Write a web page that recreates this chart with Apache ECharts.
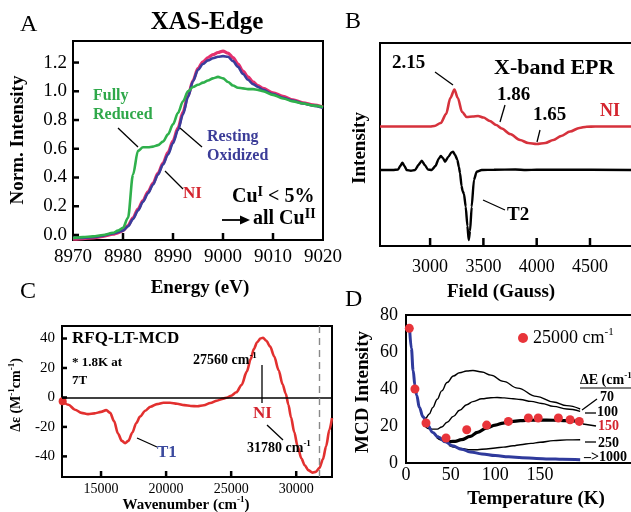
<!DOCTYPE html>
<html><head><meta charset="utf-8">
<script src="https://cdn.jsdelivr.net/npm/echarts@6/dist/echarts.min.js"></script>
<style>html,body{margin:0;padding:0;background:#fff}#c{width:631px;height:512px}</style>
</head><body><div id="c"></div>
<script>
// ---------- Panel A : XAS edge ----------
const xasEnergy = [8970,8972,8974,8976,8978,8979,8980,8981,8982,8983,8984,8985,8986,8987,8988,8989,8990,8991,8992,8993,8994,8995,8996,8997,8998,8999,9000,9001,9002,9003,9004,9005,9006,9007,9008,9010,9012,9014,9016,9018,9020];
const xasReduced = [-0.02,-0.015,-0.01,0.0,0.015,0.03,0.05,0.12,0.42,0.585,0.61,0.61,0.615,0.625,0.65,0.70,0.77,0.85,0.93,1.0,1.03,1.045,1.06,1.075,1.09,1.10,1.09,1.065,1.04,1.025,1.02,1.015,1.015,1.01,1.0,0.975,0.95,0.93,0.915,0.9,0.89];
const xasResting = [-0.02,-0.02,-0.015,-0.005,0.01,0.02,0.03,0.06,0.11,0.17,0.23,0.29,0.35,0.42,0.49,0.56,0.64,0.73,0.84,0.96,1.07,1.15,1.19,1.215,1.23,1.24,1.245,1.24,1.21,1.17,1.12,1.08,1.05,1.03,1.01,0.98,0.955,0.935,0.915,0.9,0.885];
const xasNI = [-0.03,-0.025,-0.02,-0.01,0.005,0.015,0.03,0.065,0.12,0.18,0.24,0.30,0.36,0.43,0.50,0.575,0.655,0.745,0.855,0.97,1.075,1.16,1.205,1.235,1.255,1.27,1.28,1.265,1.235,1.19,1.14,1.10,1.065,1.04,1.02,0.99,0.965,0.94,0.92,0.905,0.89];
const xasXTicks = [8980,8990,9000,9010];
const xasYTicks = [0,0.2,0.4,0.6,0.8,1.0,1.2];

// ---------- Panel B : X-band EPR ----------
const niField  = [2530,3000,3040,3100,3150,3190,3228,3260,3300,3344,3400,3450,3500,3560,3620,3672,3750,3844,3920,4000,4080,4156,4230,4313,4400,4469,4550,5070];
const niSignal = [119.5,119.5,120,123,132,148,156.5,148,134,129,129.5,130,128.5,125,121,117.5,112,106,103,102,103,106,110,114.5,118,119.3,119.5,119.5];
const t2Field  = [2530,2650,2700,2720,2740,2760,2780,2820,2860,2890,2922,2950,2980,3015,3050,3080,3100,3120,3140,3170,3200,3215,3235,3256,3270,3281,3295,3305,3318,3334,3350,3362,3375,3390,3411,3437,3484,3600,3800,3900,4000,5070];
const t2Signal = [76,76,76.5,80,83.3,80,76,75.3,76,81,85.3,81,76.5,76,80,87,90,88,84.3,89,93.5,94.3,91,86,79,72.7,60,55,52,39.3,20,6,15,39,66,74.3,76,76.3,76.5,76,76.3,76];
const eprTicks = [3000,3500,4000,4500];

// ---------- Panel C : RFQ-LT-MCD ----------
const mcdWn = [12050,12500,13000,13500,14000,14500,15000,15400,15700,16000,16300,16600,16850,17100,17400,17700,18000,18400,18800,19300,19800,20300,20850,21400,21900,22400,22900,23400,23900,24400,24700,25000,25400,25800,26200,26500,26750,27000,27250,27450,27700,28000,28300,28650,28950,29200,29400,29600,29850,30100,30400,30650,30950,31250,31500,31780,32050,32300,32550,32750];
const mcdDe = [-2.5,-5,-8.3,-10.5,-11.3,-10.8,-9.8,-8.6,-10.5,-16,-24.5,-29.5,-31,-29.5,-24,-17.5,-13,-9,-6.3,-4.5,-3.6,-3.6,-4.3,-5.2,-5.8,-6,-5.3,-3.8,-2.2,-0.8,0,1.2,3.5,8.5,17.5,26,33,37.5,40,40.5,38.5,34.5,28,18.5,9,2.5,-5,-13.5,-23.5,-33,-41.5,-46,-49.5,-51,-50.5,-48,-42,-33,-22,-14];
const mcdXTicks = [15000,20000,25000,30000];
const mcdYTicks = [-40,-20,0,20,40];
const niBandWn = 31780;

// ---------- Panel D : VTVH MCD ----------
const dotTemp = [3.7,10,22.4,44.8,68,90.3,114.6,137,148,170.6,183.7,194];
const dotMcd  = [72.8,40,21.6,13.5,18,20.5,22.5,24.3,24.3,24.3,23.4,22.5];
const fitT70  = [20,22,26,30,35,40,46,53,60,68,75,85,95,109,125,146,165,180,195];
const fit70   = [24.5,24.2,26.5,30,34.5,39,43.5,47,48.8,49.7,50,49.2,47.5,44.1,40.5,36,33,31,29.2];
const fitT100 = [22,26,30,35,40,46,53,60,68,75,85,95,102,110,120,128,140,152,165,180,195];
const fit100  = [19.5,18.5,18.3,18.3,19.5,22,25.2,28.5,31.5,33.2,34.7,35.3,35.4,35.2,34.7,34.3,33.3,32.2,30.6,29.2,27.9];
const fitT150 = [35,40,45,50,55,62,72,80,90,100,109,118,128,140,150,165,180,195];
const fit150  = [14.2,12.8,12.0,11.6,11.7,12.6,14.4,16.6,18.9,20.5,21.6,22.4,22.9,23.1,23.2,23.1,22.9,22.5];
const fitT250 = [48,55,62,72,80,90,100,109,120,128,140,150,165,180,195];
const fit250  = [9.5,8.5,7.8,7.2,7.2,7.6,8.1,8.6,9.3,9.9,10.6,11.2,12.1,12.5,12.6];
const fitT1000 = [4,6,8,10,12,15,19,24,30,36,44,52,62,72,85,100,115,130,146,160,175,195];
const fit1000  = [73,62,50,42,36.5,30,25,20.5,16.5,14,11.5,9.3,7.5,6,4.9,4,3.4,2.9,2.5,2.2,2.0,1.8];
const tempTicks = [0,50,100,150];

// ---------- axis ranges ----------
const xasXRange = [8970, 9020], xasYRange = [-0.035, 1.35];
const eprXRange = [2530, 5063], eprYRange = [0, 203];
const mcdXRange = [12000, 32750], mcdYRange = [-54, 48.5];
const tempXRange = [0, 268.7], tempYRange = [0, 80];

// ---------- helpers ----------
const F = "'Liberation Serif','Times New Roman',serif";
const pairs = (xs, ys) => xs.map((x, i) => [x, ys[i]]);
const BLK = '#000';
const plain = v => String(v);

function txt(x, y, text, size, o) {
  o = o || {};
  return { type: 'text', x: x, y: y, rotation: o.rot || 0, z: 100,
    style: { text: text, fill: o.color || BLK, fontSize: size, fontFamily: F,
      fontWeight: o.bold ? 'bold' : 'normal',
      textAlign: o.align || 'left', align: o.align || 'left',
      textVerticalAlign: 'middle', verticalAlign: 'middle', rich: o.rich } };
}
function ln(x1, y1, x2, y2, w, c) {
  return { type: 'line', z: 100, shape: { x1, y1, x2, y2 }, style: { stroke: c || BLK, lineWidth: w || 1.3 } };
}
function richSup(size, ratio) {
  return {
    a: { fontSize: size, fontWeight: 'bold', fontFamily: F, fill: BLK, color: BLK, lineHeight: size + 4 },
    s: { fontSize: Math.round(size * (ratio || 0.62)), fontWeight: 'bold', fontFamily: F, fill: BLK, color: BLK, verticalAlign: 'top', lineHeight: size + 4 }
  };
}
// inside tick marks drawn as small rect symbols at the axis edge
function xTicks(idx, vals, yEdge, len) {
  return { type: 'scatter', xAxisIndex: idx, yAxisIndex: idx, clip: false, z: 10,
    data: vals.map(v => [v, yEdge]), symbol: 'rect', symbolSize: [2.5, len], symbolOffset: [0, -len / 2],
    itemStyle: { color: BLK, opacity: 1 } };
}
function yTicks(idx, vals, xEdge, len) {
  return { type: 'scatter', xAxisIndex: idx, yAxisIndex: idx, clip: false, z: 10,
    data: vals.map(v => [xEdge, v]), symbol: 'rect', symbolSize: [len, 2.5], symbolOffset: [len / 2, 0],
    itemStyle: { color: BLK, opacity: 1 } };
}

const gridBase = { show: true, borderColor: BLK, borderWidth: 2, containLabel: false, outerBoundsMode: 'none' };
const lab = (size, margin, extra) => Object.assign({ fontSize: size, fontFamily: F, color: BLK, margin: margin, formatter: plain }, extra || {});
const axLine = { show: true, onZero: false, lineStyle: { color: BLK, width: 2 } };
const noTick = { show: false };

const option = {
  animation: false,
  backgroundColor: '#fff',
  grid: [
    Object.assign({ left: 73, top: 41, width: 250, height: 199 }, gridBase),
    Object.assign({ left: 380, top: 43, width: 270, height: 203 }, gridBase),
    Object.assign({ left: 62, top: 326, width: 270, height: 151 }, gridBase),
    Object.assign({ left: 406, top: 315, width: 240, height: 148 }, gridBase)
  ],
  xAxis: [
    { gridIndex: 0, type: 'value', min: xasXRange[0], max: xasXRange[1], interval: 10, axisLine: axLine, splitLine: { show: false },
      axisTick: noTick, axisLabel: lab(19, 8) },
    { gridIndex: 1, type: 'value', min: eprXRange[0], max: eprXRange[1], axisLine: axLine, splitLine: { show: false },
      axisTick: noTick, axisLabel: lab(18, 12, { customValues: eprTicks }) },
    { gridIndex: 2, type: 'value', min: mcdXRange[0], max: mcdXRange[1], axisLine: axLine, splitLine: { show: false },
      axisTick: noTick, axisLabel: lab(14, 5, { customValues: mcdXTicks }) },
    { gridIndex: 3, type: 'value', min: tempXRange[0], max: tempXRange[1], axisLine: axLine, splitLine: { show: false },
      axisTick: noTick, axisLabel: lab(18, 3, { customValues: tempTicks }) }
  ],
  yAxis: [
    { gridIndex: 0, type: 'value', min: xasYRange[0], max: xasYRange[1], axisLine: axLine, splitLine: { show: false },
      axisTick: noTick, axisLabel: lab(19, 6, { customValues: xasYTicks, formatter: v => v.toFixed(1) }) },
    { gridIndex: 1, type: 'value', min: eprYRange[0], max: eprYRange[1], axisLine: axLine, splitLine: { show: false },
      axisTick: noTick, axisLabel: { show: false } },
    { gridIndex: 2, type: 'value', min: mcdYRange[0], max: mcdYRange[1], axisLine: axLine, splitLine: { show: false },
      axisTick: noTick, axisLabel: lab(15, 7, { customValues: mcdYTicks }) },
    { gridIndex: 3, type: 'value', min: tempYRange[0], max: tempYRange[1], interval: 20, axisLine: axLine, splitLine: { show: false },
      axisTick: noTick, axisLabel: lab(18, 8) }
  ],
  legend: {
    data: ['25000 cm-1'], left: 513, top: 322, icon: 'circle', itemWidth: 10, itemHeight: 10,
    formatter: () => '{a|25000 cm}{s|-1}',
    textStyle: { fontFamily: F, fontSize: 18, color: BLK,
      rich: { a: { fontFamily: F, fontSize: 18, color: BLK, lineHeight: 22 },
              s: { fontFamily: F, fontSize: 11, color: BLK, verticalAlign: 'top', lineHeight: 22 } } }
  },
  series: [
    { type: 'line', name: 'NI', xAxisIndex: 0, yAxisIndex: 0, data: pairs(xasEnergy, xasNI), showSymbol: false,
      smooth: 0.3, smoothMonotone: 'x', lineStyle: { color: '#e4306e', width: 3.2 } },
    { type: 'line', name: 'Resting Oxidized', xAxisIndex: 0, yAxisIndex: 0, data: pairs(xasEnergy, xasResting), showSymbol: false,
      smooth: 0.3, smoothMonotone: 'x', lineStyle: { color: '#3a3d9c', width: 2.6 } },
    { type: 'line', name: 'Fully Reduced', xAxisIndex: 0, yAxisIndex: 0, data: pairs(xasEnergy, xasReduced), showSymbol: false,
      smooth: 0.3, smoothMonotone: 'x', lineStyle: { color: '#2fb04c', width: 2.6 } },
    xTicks(0, xasXTicks, xasYRange[0], 7),
    yTicks(0, xasYTicks, xasXRange[0], 6),
    { type: 'line', name: 'NI EPR', xAxisIndex: 1, yAxisIndex: 1, data: pairs(niField, niSignal), showSymbol: false,
      smooth: 0.3, smoothMonotone: 'x', lineStyle: { color: '#d6323c', width: 2.6 } },
    { type: 'line', name: 'T2 EPR', xAxisIndex: 1, yAxisIndex: 1, data: pairs(t2Field, t2Signal), showSymbol: false,
      smooth: 0.2, smoothMonotone: 'x', lineStyle: { color: BLK, width: 2.4 } },
    xTicks(1, eprTicks, eprYRange[0], 8),
    { type: 'line', name: 'MCD', xAxisIndex: 2, yAxisIndex: 2, data: pairs(mcdWn, mcdDe), showSymbol: false,
      smooth: 0.3, smoothMonotone: 'x', lineStyle: { color: '#e2302f', width: 2.6 }, z: 3,
      markLine: { silent: true, symbol: 'none', label: { show: false }, animation: false,
        data: [
          { yAxis: 0, lineStyle: { color: BLK, width: 1.6, type: 'solid' } },
          { xAxis: niBandWn, lineStyle: { color: '#888', width: 1.4, type: [7, 5] } }
        ] } },
    { type: 'scatter', name: 'MCD start', xAxisIndex: 2, yAxisIndex: 2, data: [[mcdWn[0], mcdDe[0]]], symbolSize: 8,
      itemStyle: { color: '#e2302f', opacity: 1 } },
    xTicks(2, mcdXTicks, mcdYRange[0], 6),
    yTicks(2, mcdYTicks, mcdXRange[0], 5),
    { type: 'line', name: 'dE70', xAxisIndex: 3, yAxisIndex: 3, data: pairs(fitT70, fit70), showSymbol: false,
      smooth: 0.4, smoothMonotone: 'x', lineStyle: { color: BLK, width: 1.4 } },
    { type: 'line', name: 'dE100', xAxisIndex: 3, yAxisIndex: 3, data: pairs(fitT100, fit100), showSymbol: false,
      smooth: 0.4, smoothMonotone: 'x', lineStyle: { color: BLK, width: 1.4 } },
    { type: 'line', name: 'dE250', xAxisIndex: 3, yAxisIndex: 3, data: pairs(fitT250, fit250), showSymbol: false,
      smooth: 0.4, smoothMonotone: 'x', lineStyle: { color: BLK, width: 1.4 } },
    { type: 'line', name: 'dE150', xAxisIndex: 3, yAxisIndex: 3, data: pairs(fitT150, fit150), showSymbol: false,
      smooth: 0.4, smoothMonotone: 'x', lineStyle: { color: BLK, width: 3.2 } },
    { type: 'line', name: 'dE1000', xAxisIndex: 3, yAxisIndex: 3, data: pairs(fitT1000, fit1000), showSymbol: false,
      smooth: 0.4, smoothMonotone: 'x', lineStyle: { color: '#2f3a9c', width: 3 } },
    { type: 'scatter', name: '25000 cm-1', xAxisIndex: 3, yAxisIndex: 3, data: pairs(dotTemp, dotMcd), symbolSize: 9,
      itemStyle: { color: '#e8343a', opacity: 1 }, z: 5 }
  ],
  graphic: [
    ln(379, 43, 631, 43, 2),
    ln(405, 315, 631, 315, 2),
    txt(20, 25, 'A', 24),
    txt(207, 23, 'XAS-Edge', 25, { bold: true, align: 'center' }),
    txt(18, 140, 'Norm. Intensity', 19, { bold: true, align: 'center', rot: Math.PI / 2 }),
    txt(200, 288, 'Energy (eV)', 19, { bold: true, align: 'center' }),
    txt(93, 96, 'Fully', 16, { bold: true, color: '#2fa84a' }),
    txt(93, 115, 'Reduced', 16, { bold: true, color: '#2fa84a' }),
    ln(118, 128, 138, 147),
    txt(207, 137, 'Resting', 16, { bold: true, color: '#3b3c98' }),
    txt(207, 156, 'Oxidized', 16, { bold: true, color: '#3b3c98' }),
    ln(180, 128, 202, 147),
    txt(183, 194, 'NI', 17, { bold: true, color: '#d4252f' }),
    ln(165, 171, 183, 189),
    txt(232, 197, '{a|Cu}{s|I}{a| < 5%}', 20, { rich: richSup(20, 0.68) }),
    ln(222, 220, 242, 220, 1.8),
    { type: 'polygon', z: 100, shape: { points: [[240, 215.5], [250, 220], [240, 224.5]] }, style: { fill: BLK } },
    txt(253, 219, '{a|all Cu}{s|II}', 20, { rich: richSup(20, 0.68) }),
    txt(345, 22, 'B', 24),
    txt(494, 68, 'X-band EPR', 22, { bold: true }),
    txt(360, 148, 'Intensity', 19, { bold: true, align: 'center', rot: Math.PI / 2 }),
    txt(501, 292, 'Field (Gauss)', 19, { bold: true, align: 'center' }),
    txt(392, 63, '2.15', 19, { bold: true }),
    ln(435, 72, 453, 85),
    txt(497, 95, '1.86', 19, { bold: true }),
    ln(505, 105, 500, 122),
    txt(533, 115, '1.65', 19, { bold: true }),
    ln(540, 130, 537, 142),
    txt(600, 111, 'NI', 18, { bold: true, color: '#d4252f' }),
    txt(507, 215, 'T2', 19, { bold: true }),
    ln(483, 200, 505, 210),
    txt(20, 292, 'C', 24),
    txt(72, 339, 'RFQ-LT-MCD', 17, { bold: true }),
    txt(72, 363, '* 1.8K at', 13, { bold: true }),
    txt(72, 381, '7T', 13, { bold: true }),
    txt(193, 360, '{a|27560 cm}{s|-1}', 14, { rich: richSup(14) }),
    ln(262, 365, 262, 403),
    txt(253, 414, 'NI', 17, { bold: true, color: '#d4252f' }),
    ln(267, 425, 283, 440),
    txt(247, 448, '{a|31780 cm}{s|-1}', 14, { rich: richSup(14) }),
    txt(157, 453, 'T1', 17, { bold: true, color: '#3b4a9e' }),
    ln(137, 438, 157, 447),
    txt(186, 505, '{a|Wavenumber (cm}{s|-1}{a|)}', 15, { align: 'center', rich: richSup(15) }),
    txt(16, 395, '{a|Δε (M}{s|-1}{a|cm}{s|-1}{a|)}', 14, { align: 'center', rot: Math.PI / 2, rich: richSup(14) }),
    txt(345, 300, 'D', 24),
    txt(363, 392, 'MCD Intensity', 19, { bold: true, align: 'center', rot: Math.PI / 2 }),
    txt(536, 499, 'Temperature (K)', 19, { bold: true, align: 'center' }),
    txt(580, 380, '{a|ΔE (cm}{s|-1}', 14, { rich: richSup(14) }),
    ln(580, 388, 631, 388, 1.2),
    ln(582, 410, 597, 399),
    txt(600, 397, '70', 14, { bold: true }),
    ln(585, 413, 596, 413),
    txt(597, 412, '100', 14, { bold: true }),
    ln(583, 424, 596, 426),
    txt(598, 426, '150', 14, { bold: true, color: '#d4252f' }),
    ln(585, 442, 596, 442),
    txt(598, 443, '250', 14, { bold: true }),
    txt(584, 457, '–>1000', 14, { bold: true })
  ]
};

const chart = echarts.init(document.getElementById('c'), null, { renderer: 'canvas' });
chart.setOption(option);
</script></body></html>
